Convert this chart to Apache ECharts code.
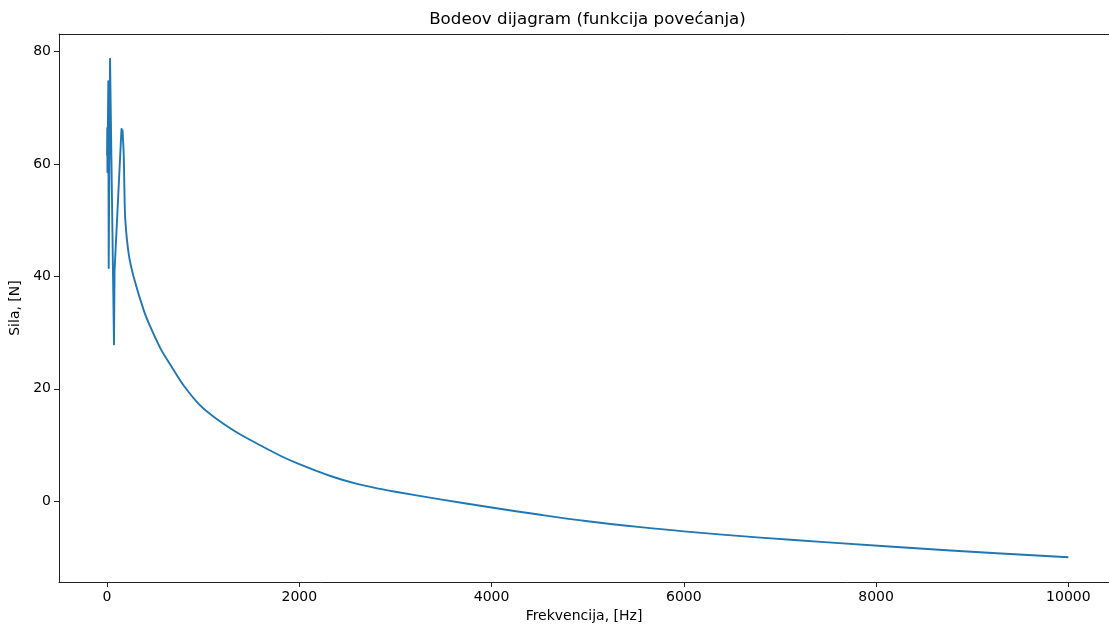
<!DOCTYPE html>
<html>
<head>
<meta charset="utf-8">
<script src="https://cdn.jsdelivr.net/npm/echarts@6/dist/echarts.min.js"></script>
<style>
html,body{margin:0;padding:0;background:#fff;}
#chart{width:1109px;height:628px;}
</style>
</head>
<body>
<div id="chart"></div>
<script>
const titleText = 'Bodeov dijagram (funkcija povećanja)';
const xName = 'Frekvencija, [Hz]';
const yName = 'Sila, [N]';
const xTicks = [0, 2000, 4000, 6000, 8000, 10000];
const yTicks = [0, 20, 40, 60, 80];
// resonance region (sharp, drawn without smoothing)
const freqLow = [0, 2, 4, 13, 17, 31, 72, 78, 150, 160];
const silaLow = [61.5, 66.4, 58.5, 74.7, 41.5, 78.7, 27.9, 41, 66.2, 66.1];
// decaying tail
const freqTail = [160, 173, 180, 190, 225, 277, 381, 451, 555, 624, 676, 797, 971, 1144, 1318, 1491, 1803, 2000, 2323, 2600, 2844, 3000, 3468, 4000, 4508, 5000, 5549, 6000, 6797, 7500, 8775, 10000];
const silaTail = [66.1, 61.8, 55.9, 50, 44, 39.9, 34.0, 31.0, 27.2, 25.2, 23.8, 20.6, 17.0, 14.6, 12.6, 10.9, 8.1, 6.6, 4.5, 3.1, 2.2, 1.7, 0.35, -1.1, -2.4, -3.55, -4.6, -5.35, -6.45, -7.3, -8.75, -9.95];

const chart = echarts.init(document.getElementById('chart'), null, {renderer: 'canvas'});
const font = 'DejaVu Sans';
const lineColor = '#1f77b4';
const spine = {color: '#222', width: 1};
chart.setOption({
  animation: false,
  backgroundColor: '#fff',
  textStyle: {fontFamily: font},
  graphic: [{
    type: 'text',
    x: 587.5, y: 20,
    style: {text: titleText, font: '16.7px "DejaVu Sans"', fill: '#000', textAlign: 'center', textVerticalAlign: 'middle'}
  }],
  grid: {left: 59, top: 34, right: 0, height: 548, show: false},
  xAxis: [{
    type: 'value', min: -500, max: 10423,
    name: xName, nameLocation: 'middle', nameGap: 27,
    nameTextStyle: {fontSize: 14, color: '#000', fontFamily: font},
    axisLine: {show: true, onZero: false, lineStyle: spine},
    axisTick: {show: true, inside: false, customValues: xTicks, length: 5, lineStyle: spine},
    axisLabel: {customValues: xTicks, fontSize: 14, color: '#000', margin: 8, fontFamily: font, formatter: v => String(v)},
    splitLine: {show: false}
  }, {
    type: 'value', min: -500, max: 10423, position: 'top',
    axisLine: {show: true, onZero: false, lineStyle: spine},
    axisTick: {show: false}, axisLabel: {show: false}, splitLine: {show: false}
  }],
  yAxis: {
    type: 'value', min: -14.35, max: 83.1,
    name: yName, nameLocation: 'middle', nameGap: 34, nameRotate: 90,
    nameTextStyle: {fontSize: 14, color: '#000', fontFamily: font},
    axisLine: {show: true, onZero: false, lineStyle: spine},
    axisTick: {show: true, inside: false, customValues: yTicks, length: 5, lineStyle: spine},
    axisLabel: {customValues: yTicks, fontSize: 14, color: '#000', margin: 8, fontFamily: font, formatter: v => String(v)},
    splitLine: {show: false}
  },
  series: [{
    type: 'line',
    data: freqLow.map((f, i) => [f, silaLow[i]]),
    showSymbol: false,
    symbol: 'none',
    lineStyle: {color: lineColor, width: 1.9, join: 'round'},
    itemStyle: {color: lineColor}
  }, {
    type: 'line',
    data: freqTail.map((f, i) => [f, silaTail[i]]),
    showSymbol: false,
    symbol: 'none',
    smooth: 0.35,
    lineStyle: {color: lineColor, width: 1.9, join: 'round'},
    itemStyle: {color: lineColor}
  }]
});
</script>
</body>
</html>
